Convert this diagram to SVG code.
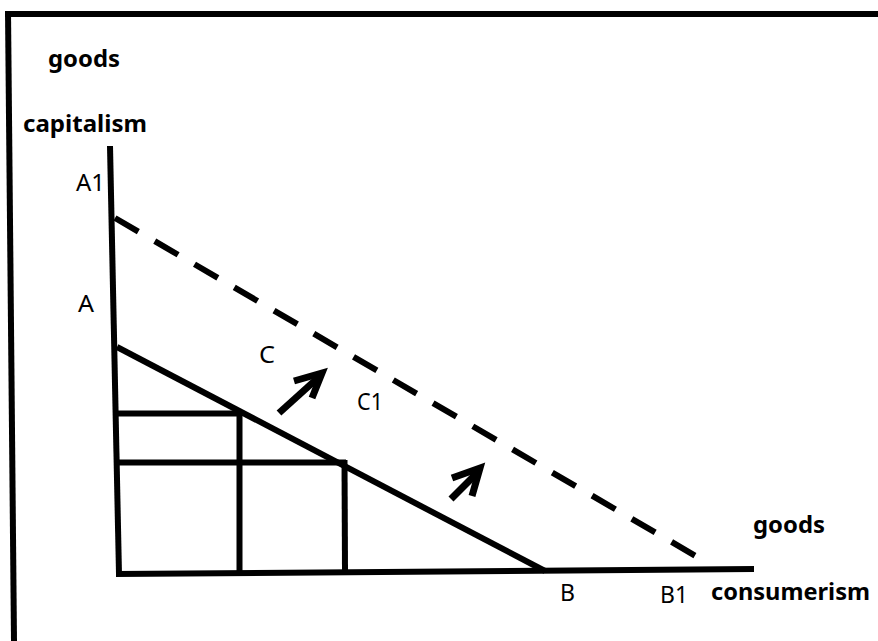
<svg xmlns="http://www.w3.org/2000/svg" width="878" height="641" viewBox="0 0 878 641">
<style>
.ln{stroke:#000;stroke-width:6;fill:none}
.dash{stroke:#000;stroke-width:6;fill:none;stroke-dasharray:27 19}
.arr{stroke:#000;stroke-width:7;fill:none;stroke-linejoin:miter;stroke-linecap:butt}
.b{font-family:"Noto Sans","Open Sans",sans-serif;font-weight:bold;font-size:24px;fill:#000}
.r{font-family:"Noto Sans","Open Sans",sans-serif;font-size:24px;fill:#000}
</style>
<rect x="0" y="0" width="878" height="641" fill="#fff"/>
<g id="frame">
<line class="ln" x1="5" y1="14" x2="878" y2="14"/>
<line class="ln" x1="8" y1="11" x2="14" y2="641"/>
</g>
<g id="axes">
<line class="ln" x1="110" y1="146" x2="119" y2="574"/>
<line class="ln" x1="116" y1="574" x2="754" y2="569"/>
</g>
<g id="connectors">
<line id="lineAB" class="ln" x1="117" y1="347" x2="545" y2="571"/>
<line id="lineA1B1" class="dash" x1="115" y1="218" x2="706" y2="562"/>
<line class="ln" x1="117" y1="413.5" x2="240" y2="413.5"/>
<line class="ln" x1="118" y1="462.5" x2="346" y2="462.5"/>
<line class="ln" x1="239.5" y1="411" x2="239.5" y2="572"/>
<line class="ln" x1="344.5" y1="460" x2="345" y2="571"/>
<g id="arrow1">
<line class="arr" x1="279" y1="413" x2="320" y2="376"/>
<polyline class="arr" points="294,381 322,373 312,398"/>
</g>
<g id="arrow2">
<line class="arr" x1="451" y1="499" x2="478" y2="472"/>
<polyline class="arr" points="452,478 480,468 472,496"/>
</g>
</g>
<g id="labels">
<text class="b" x="48" y="67" textLength="72" lengthAdjust="spacingAndGlyphs">goods</text>
<text class="b" x="23" y="132" textLength="124" lengthAdjust="spacingAndGlyphs">capitalism</text>
<text class="b" x="753" y="533" textLength="72" lengthAdjust="spacingAndGlyphs">goods</text>
<text class="b" x="711" y="600" textLength="159" lengthAdjust="spacingAndGlyphs">consumerism</text>
<text class="r" x="76" y="191" textLength="29" lengthAdjust="spacingAndGlyphs">A1</text>
<text class="r" x="78" y="312" textLength="16" lengthAdjust="spacingAndGlyphs">A</text>
<text class="r" x="259" y="363" textLength="16" lengthAdjust="spacingAndGlyphs">C</text>
<text class="r" x="357" y="410" textLength="26" lengthAdjust="spacingAndGlyphs">C1</text>
<text class="r" x="560" y="601" textLength="15" lengthAdjust="spacingAndGlyphs">B</text>
<text class="r" x="660" y="603" textLength="28" lengthAdjust="spacingAndGlyphs">B1</text>
</g>
</svg>
